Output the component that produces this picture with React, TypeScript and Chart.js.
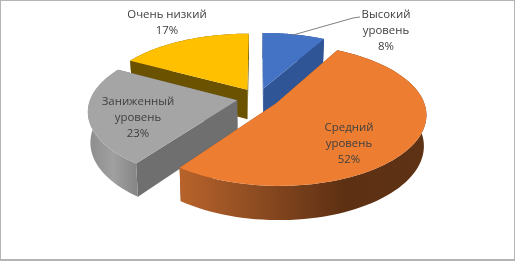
import React, { useEffect, useRef } from "react";
import { Chart, registerables } from "chart.js";

Chart.register(...registerables);

const categories = [["Высокий", "уровень"], ["Средний", "уровень"], ["Заниженный", "уровень"], ["Очень низкий"]];
const values = [8, 52, 23, 17];
const explode = [0.145, 0.145, 0.145, 0.145];
const topColors = ["#4472c4", "#ed7d31", "#a5a5a5", "#ffc000"];
const wallColors = ["#2f5597", "#8a4a20", "#6f6f6f", "#6b5200"];
const rimStops = [
  ["#2f5597", "#2f5597"],
  ["#b9632b", "#8a4a20", "#5d3013", "#5e3214"],
  ["#8c8c8c", "#a0a0a0", "#858585"],
  ["#6b5200", "#6b5200"],
];
const labelAnchors = [
  { x: 386, y: 15 },
  { x: 349, y: 128 },
  { x: 138, y: 102 },
  { x: 167, y: 15 },
];
const drawOrder = [3, 0, 2, 1];

const CX = 258, CY = 98, RX = 146.5, PX = 0.147, RY = 67.5, PY = 0.16, DEPTH = 30;

type P = { x: number; y: number };
function project(u: number, v: number, low = false): P {
  let x = CX + (RX * u) / (1 - PX * v);
  let y = CY + (RY * v) / (1 - PY * v);
  if (low) {
    x = CX + (x - CX) * 0.985;
    y += DEPTH * (1 + 0.13 * v);
  }
  return { x, y };
}

const pie3d = {
  id: "pie3d",
  beforeDatasetsDraw(chart: any) {
    const ctx: CanvasRenderingContext2D = chart.ctx;
    const arcs = chart.getDatasetMeta(0).data;
    const trace = (pts: P[]) => {
      ctx.beginPath();
      pts.forEach((p, i) => (i ? ctx.lineTo(p.x, p.y) : ctx.moveTo(p.x, p.y)));
      ctx.closePath();
    };
    for (const i of drawOrder) {
      const arc = arcs[i];
      const a0 = arc.startAngle + Math.PI / 2;
      const a1 = arc.endAngle + Math.PI / 2;
      const mid = (a0 + a1) / 2;
      const ou = explode[i] * Math.sin(mid);
      const ov = -explode[i] * Math.cos(mid);
      const n = 80;
      const rimUV: [number, number][] = [];
      for (let k = 0; k <= n; k++) {
        const t = a0 + ((a1 - a0) * k) / n;
        rimUV.push([ou + Math.sin(t), ov - Math.cos(t)]);
      }
      const top = rimUV.map(([u, v]) => project(u, v));
      const bot = rimUV.map(([u, v]) => project(u, v, true));
      const apexT = project(ou, ov);
      const apexB = project(ou, ov, true);

      // radial walls
      ctx.fillStyle = wallColors[i];
      trace([apexT, top[0], bot[0], apexB]);
      ctx.fill();
      trace([apexT, top[n], bot[n], apexB]);
      ctx.fill();

      // outer rim
      const xs = top.concat(bot).map((p) => p.x);
      const g = ctx.createLinearGradient(Math.min(...xs), 0, Math.max(...xs), 0);
      rimStops[i].forEach((c, k, arr) => g.addColorStop(k / (arr.length - 1), c));
      ctx.fillStyle = g;
      trace(top.concat(bot.slice().reverse()));
      ctx.fill();

      // top face
      ctx.fillStyle = topColors[i];
      trace([apexT, ...top]);
      ctx.fill();
    }

    // leader line
    ctx.strokeStyle = "#808080";
    ctx.lineWidth = 1;
    ctx.beginPath();
    ctx.moveTo(293, 35);
    ctx.lineTo(353, 18);
    ctx.lineTo(360, 17);
    ctx.stroke();

    // labels
    ctx.fillStyle = "#404040";
    ctx.font = '11.4px "Open Sans"';
    ctx.textAlign = "center";
    ctx.textBaseline = "middle";
    chart.data.labels.forEach((lines: string[], i: number) => {
      const a = labelAnchors[i];
      const rows = [...lines, `${chart.data.datasets[0].data[i]}%`];
      rows.forEach((r, k) => ctx.fillText(r, a.x, a.y + k * 16));
    });
    return false;
  },
};

export default function App() {
  const ref = useRef<HTMLCanvasElement>(null);
  useEffect(() => {
    const chart = new Chart(ref.current!, {
      type: "pie",
      data: {
        labels: categories as any,
        datasets: [{ data: values, backgroundColor: topColors }],
      },
      options: {
        animation: false,
        responsive: false,
        events: [],
        plugins: { legend: { display: false }, tooltip: { enabled: false } },
      },
      plugins: [pie3d as any],
    });
    return () => chart.destroy();
  }, []);
  return (
    <div style={{ position: "fixed", left: 0, top: 0, width: 515, height: 262, background: "#fff" }}>
      <canvas ref={ref} width={515} height={262} style={{ display: "block" }} />
      <div
        style={{
          position: "absolute",
          left: 0,
          top: 0,
          width: 515,
          height: 261,
          boxSizing: "border-box",
          borderStyle: "solid",
          borderColor: "#b4b4b4",
          borderWidth: "1px 1px 2px 1px",
        }}
      />
    </div>
  );
}
